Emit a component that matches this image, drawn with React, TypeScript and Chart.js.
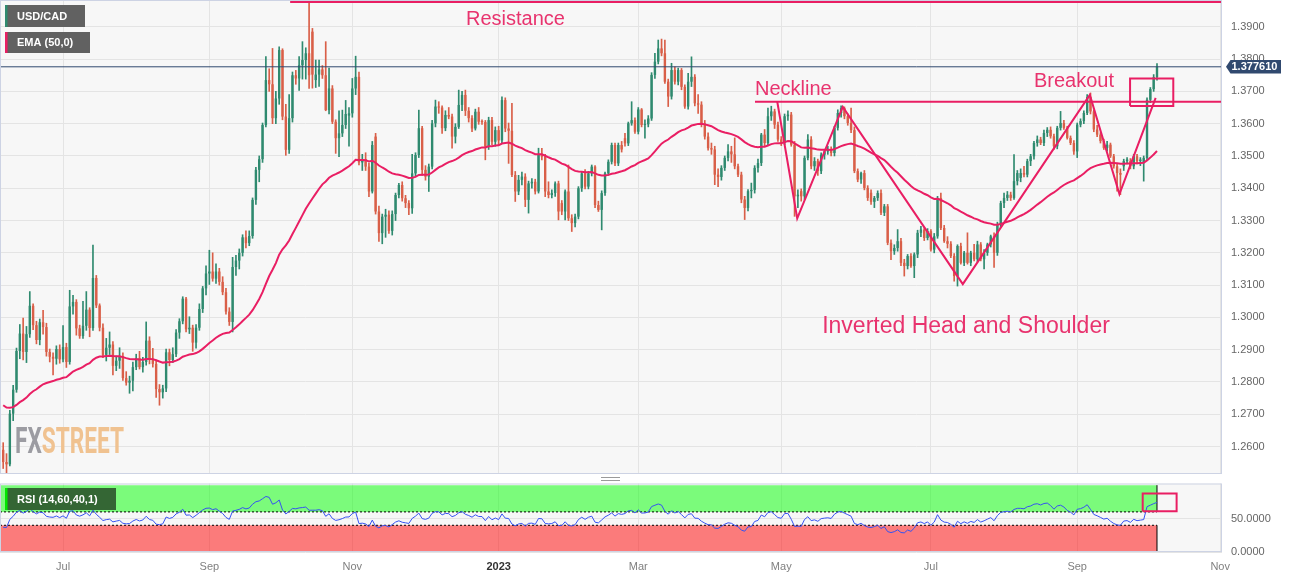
import React, { useEffect, useRef } from 'react';
import { Chart, registerables } from 'chart.js';

Chart.register(...registerables);

// ---------- data ----------
const startDate = '2022-06-07'; // first candle; candles are consecutive weekdays

const opens = [
  1.2590,1.2552,1.2545,1.2702,1.2776,1.2896,1.2950,1.2893,1.2948,1.3036,
  1.2976,1.2930,1.2985,1.2970,1.2893,1.2878,1.2872,1.2902,1.2870,1.2908,
  1.2862,1.3034,1.3048,1.2966,1.2942,1.2974,1.3024,1.2967,1.3122,1.3037,
  1.2968,1.2884,1.2906,1.2916,1.2850,1.2866,1.2880,1.2812,1.2798,1.2804,
  1.2846,1.2874,1.2846,1.2862,1.2928,1.2870,1.2856,1.2778,1.2768,1.2780,
  1.2892,1.2868,1.2886,1.2953,1.2988,1.3058,1.2963,1.2968,1.2922,1.2968,
  1.3026,1.3090,1.3136,1.3142,1.3120,1.3142,1.3110,1.3078,1.3018,1.2986,
  1.3156,1.3176,1.3200,1.3248,1.3230,1.3252,1.3364,1.3457,1.3490,1.3596,
  1.3735,1.3722,1.3617,1.3678,1.3828,1.3622,1.3519,1.3617,1.3750,1.3740,
  1.3781,1.3797,1.3818,1.3885,1.3735,1.3752,1.3768,1.3750,1.3642,1.3709,
  1.3606,1.3555,1.3570,1.3596,1.3625,1.3632,1.3709,1.3745,1.3480,1.3490,
  1.3467,1.3390,1.3560,1.3328,1.3261,1.3312,1.3318,1.3268,1.3320,1.3379,
  1.3410,1.3369,1.3354,1.3338,1.3446,1.3503,1.3586,1.3457,1.3436,1.3467,
  1.3601,1.3653,1.3650,1.3586,1.3627,1.3622,1.3560,1.3590,1.3658,1.3689,
  1.3640,1.3617,1.3585,1.3637,1.3606,1.3605,1.3529,1.3611,1.3544,1.3580,
  1.3548,1.3673,1.3585,1.3578,1.3441,1.3390,1.3426,1.3436,1.3364,1.3415,
  1.3420,1.3390,1.3503,1.3498,1.3390,1.3379,1.3385,1.3415,1.3354,1.3328,
  1.3390,1.3307,1.3292,1.3312,1.3400,1.3446,1.3405,1.3446,1.3467,1.3348,
  1.3333,1.3385,1.3446,1.3482,1.3534,1.3477,1.3534,1.3555,1.3539,1.3601,
  1.3611,1.3575,1.3644,1.3596,1.3598,1.3616,1.3751,1.3792,1.3833,1.3818,
  1.3730,1.3684,1.3766,1.3730,1.3766,1.3714,1.3653,1.3730,1.3745,1.3663,
  1.3659,1.3601,1.3560,1.3524,1.3520,1.3442,1.3435,1.3463,1.3494,1.3514,
  1.3505,1.3468,1.3442,1.3365,1.3339,1.3391,1.3395,1.3463,1.3478,1.3566,
  1.3540,1.3623,1.3638,1.3597,1.3551,1.3540,1.3623,1.3628,1.3535,1.3375,
  1.3391,1.3375,1.3494,1.3551,1.3468,1.3484,1.3453,1.3504,1.3514,1.3520,
  1.3509,1.3587,1.3633,1.3648,1.3623,1.3602,1.3580,1.3453,1.3427,1.3447,
  1.3401,1.3386,1.3358,1.3370,1.3385,1.3324,1.3344,1.3231,1.3205,1.3215,
  1.3236,1.3169,1.3159,1.3190,1.3159,1.3195,1.3262,1.3272,1.3246,1.3267,
  1.3210,1.3251,1.3370,1.3277,1.3236,1.3228,1.3190,1.3128,1.3221,1.3169,
  1.3200,1.3169,1.3200,1.3180,1.3226,1.3180,1.3200,1.3226,1.3251,1.3200,
  1.3288,1.3354,1.3370,1.3380,1.3370,1.3422,1.3432,1.3447,1.3442,1.3484,
  1.3499,1.3540,1.3551,1.3540,1.3571,1.3581,1.3561,1.3530,1.3587,1.3602,
  1.3587,1.3556,1.3540,1.3514,1.3597,1.3608,1.3633,1.3682,1.3638,1.3582,
  1.3566,1.3546,1.3525,1.3535,1.3499,1.3468,1.3447,1.3468,1.3484,1.3484,
  1.3468,1.3499,1.3484,1.3479,1.3494,1.3674,1.3707,1.3744,
];
const highs = [
  1.2612,1.2578,1.2712,1.2790,1.2905,1.2978,1.2998,1.2972,1.3080,1.3042,
  1.2988,1.2995,1.3022,1.2982,1.2902,1.2890,1.2912,1.2915,1.2975,1.2920,
  1.3084,1.3068,1.3055,1.2976,1.3050,1.3080,1.3030,1.3224,1.3130,1.3042,
  1.2980,1.2935,1.2955,1.2925,1.2880,1.2906,1.2890,1.2832,1.2818,1.2862,
  1.2886,1.2895,1.2876,1.2986,1.2940,1.2904,1.2868,1.2792,1.2790,1.2902,
  1.2902,1.2906,1.2962,1.2996,1.3064,1.3062,1.3002,1.2976,1.2978,1.3042,
  1.3096,1.3160,1.3208,1.3200,1.3166,1.3152,1.3126,1.3090,1.3030,1.3186,
  1.3192,1.3212,1.3256,1.3268,1.3268,1.3370,1.3465,1.3500,1.3602,1.3808,
  1.3770,1.3833,1.3700,1.3838,1.3832,1.3660,1.3690,1.3760,1.3765,1.3808,
  1.3854,1.3835,1.3977,1.3895,1.3797,1.3797,1.3780,1.3854,1.3772,1.3718,
  1.3612,1.3640,1.3642,1.3672,1.3650,1.3740,1.3809,1.3760,1.3505,1.3510,
  1.3478,1.3545,1.3570,1.3345,1.3320,1.3335,1.3330,1.3330,1.3385,1.3415,
  1.3420,1.3378,1.3362,1.3505,1.3510,1.3642,1.3592,1.3470,1.3475,1.3610,
  1.3673,1.3668,1.3655,1.3640,1.3650,1.3630,1.3600,1.3704,1.3700,1.3704,
  1.3650,1.3625,1.3645,1.3650,1.3612,1.3610,1.3620,1.3620,1.3590,1.3592,
  1.3683,1.3680,1.3602,1.3663,1.3452,1.3440,1.3450,1.3445,1.3422,1.3430,
  1.3428,1.3524,1.3524,1.3505,1.3420,1.3395,1.3420,1.3422,1.3362,1.3395,
  1.3472,1.3318,1.3320,1.3405,1.3452,1.3458,1.3452,1.3472,1.3470,1.3360,
  1.3392,1.3450,1.3488,1.3540,1.3540,1.3540,1.3545,1.3570,1.3605,1.3668,
  1.3618,1.3650,1.3647,1.3612,1.3625,1.3758,1.3818,1.3859,1.3862,1.3859,
  1.3738,1.3787,1.3776,1.3772,1.3771,1.3720,1.3756,1.3807,1.3752,1.3690,
  1.3668,1.3610,1.3572,1.3540,1.3530,1.3460,1.3470,1.3500,1.3535,1.3530,
  1.3556,1.3475,1.3450,1.3375,1.3396,1.3416,1.3470,1.3490,1.3570,1.3582,
  1.3648,1.3654,1.3645,1.3605,1.3560,1.3630,1.3640,1.3635,1.3545,1.3395,
  1.3398,1.3500,1.3566,1.3560,1.3495,1.3490,1.3510,1.3520,1.3530,1.3528,
  1.3592,1.3643,1.3655,1.3652,1.3630,1.3648,1.3590,1.3460,1.3450,1.3455,
  1.3408,1.3395,1.3375,1.3392,1.3395,1.3350,1.3350,1.3240,1.3225,1.3272,
  1.3245,1.3180,1.3195,1.3198,1.3200,1.3270,1.3282,1.3278,1.3275,1.3272,
  1.3260,1.3375,1.3385,1.3285,1.3250,1.3235,1.3198,1.3225,1.3230,1.3205,
  1.3262,1.3205,1.3226,1.3236,1.3232,1.3210,1.3230,1.3255,1.3262,1.3295,
  1.3360,1.3385,1.3390,1.3388,1.3504,1.3455,1.3460,1.3468,1.3490,1.3505,
  1.3545,1.3562,1.3558,1.3580,1.3588,1.3590,1.3568,1.3592,1.3638,1.3610,
  1.3592,1.3562,1.3548,1.3602,1.3615,1.3640,1.3690,1.3695,1.3642,1.3595,
  1.3572,1.3552,1.3545,1.3540,1.3505,1.3475,1.3460,1.3490,1.3495,1.3492,
  1.3505,1.3505,1.3495,1.3500,1.3680,1.3712,1.3752,1.3786,
];
const lows = [
  1.2532,1.2518,1.2540,1.2680,1.2768,1.2872,1.2868,1.2860,1.2938,1.2962,
  1.2918,1.2915,1.2948,1.2880,1.2862,1.2822,1.2855,1.2858,1.2862,1.2845,
  1.2855,1.3010,1.2945,1.2935,1.2935,1.2960,1.2940,1.2960,1.3030,1.2958,
  1.2875,1.2865,1.2885,1.2822,1.2835,1.2842,1.2805,1.2790,1.2765,1.2772,
  1.2838,1.2840,1.2830,1.2852,1.2856,1.2846,1.2752,1.2728,1.2750,1.2770,
  1.2850,1.2860,1.2878,1.2935,1.2980,1.2955,1.2950,1.2895,1.2905,1.2960,
  1.3015,1.3070,1.3102,1.3112,1.3105,1.3100,1.3070,1.3010,1.2975,1.2955,
  1.3130,1.3150,1.3190,1.3215,1.3222,1.3245,1.3350,1.3420,1.3480,1.3590,
  1.3700,1.3600,1.3600,1.3660,1.3612,1.3502,1.3508,1.3605,1.3722,1.3703,
  1.3738,1.3738,1.3709,1.3710,1.3712,1.3715,1.3740,1.3640,1.3630,1.3600,
  1.3508,1.3498,1.3560,1.3585,1.3530,1.3620,1.3690,1.3472,1.3455,1.3455,
  1.3374,1.3385,1.3320,1.3235,1.3228,1.3248,1.3260,1.3255,1.3300,1.3370,
  1.3360,1.3340,1.3318,1.3322,1.3436,1.3495,1.3440,1.3425,1.3390,1.3460,
  1.3590,1.3632,1.3570,1.3578,1.3615,1.3524,1.3540,1.3585,1.3640,1.3625,
  1.3605,1.3575,1.3580,1.3598,1.3598,1.3488,1.3520,1.3535,1.3530,1.3535,
  1.3540,1.3575,1.3477,1.3436,1.3359,1.3380,1.3410,1.3343,1.3323,1.3400,
  1.3382,1.3385,1.3488,1.3374,1.3370,1.3370,1.3375,1.3302,1.3318,1.3302,
  1.3300,1.3266,1.3280,1.3305,1.3390,1.3398,1.3398,1.3438,1.3340,1.3328,
  1.3271,1.3378,1.3440,1.3475,1.3470,1.3470,1.3512,1.3530,1.3532,1.3595,
  1.3570,1.3568,1.3590,1.3555,1.3590,1.3610,1.3740,1.3785,1.3810,1.3725,
  1.3653,1.3676,1.3722,1.3720,1.3705,1.3647,1.3645,1.3715,1.3655,1.3632,
  1.3590,1.3552,1.3518,1.3505,1.3411,1.3405,1.3425,1.3455,1.3485,1.3480,
  1.3460,1.3436,1.3355,1.3303,1.3330,1.3370,1.3385,1.3450,1.3470,1.3532,
  1.3535,1.3610,1.3585,1.3545,1.3532,1.3535,1.3610,1.3530,1.3313,1.3340,
  1.3360,1.3365,1.3488,1.3460,1.3455,1.3440,1.3445,1.3490,1.3505,1.3500,
  1.3500,1.3580,1.3620,1.3615,1.3595,1.3572,1.3448,1.3420,1.3415,1.3395,
  1.3362,1.3350,1.3340,1.3362,1.3318,1.3315,1.3225,1.3179,1.3195,1.3205,
  1.3160,1.3128,1.3150,1.3155,1.3123,1.3185,1.3250,1.3238,1.3240,1.3205,
  1.3200,1.3245,1.3272,1.3232,1.3215,1.3185,1.3112,1.3097,1.3165,1.3160,
  1.3165,1.3160,1.3175,1.3172,1.3175,1.3150,1.3192,1.3218,1.3155,1.3192,
  1.3280,1.3340,1.3362,1.3362,1.3365,1.3410,1.3420,1.3435,1.3435,1.3470,
  1.3490,1.3530,1.3535,1.3532,1.3560,1.3555,1.3520,1.3522,1.3580,1.3582,
  1.3552,1.3535,1.3505,1.3495,1.3590,1.3600,1.3628,1.3630,1.3575,1.3560,
  1.3540,1.3520,1.3515,1.3495,1.3462,1.3391,1.3380,1.3455,1.3475,1.3460,
  1.3460,1.3475,1.3470,1.3422,1.3488,1.3665,1.3700,1.3735,
];
const closes = [
  1.2552,1.2545,1.2702,1.2776,1.2896,1.2950,1.2893,1.2948,1.3036,1.2976,
  1.2930,1.2985,1.2970,1.2893,1.2878,1.2872,1.2902,1.2870,1.2908,1.2862,
  1.3034,1.3048,1.2966,1.2942,1.2974,1.3024,1.2967,1.3122,1.3037,1.2968,
  1.2884,1.2906,1.2916,1.2850,1.2866,1.2880,1.2812,1.2798,1.2804,1.2846,
  1.2874,1.2846,1.2862,1.2928,1.2870,1.2856,1.2778,1.2768,1.2780,1.2892,
  1.2868,1.2886,1.2953,1.2988,1.3058,1.2963,1.2968,1.2922,1.2968,1.3026,
  1.3090,1.3136,1.3142,1.3120,1.3142,1.3110,1.3078,1.3018,1.2986,1.3156,
  1.3176,1.3200,1.3248,1.3230,1.3252,1.3364,1.3457,1.3490,1.3596,1.3735,
  1.3722,1.3617,1.3678,1.3828,1.3622,1.3519,1.3617,1.3750,1.3740,1.3781,
  1.3797,1.3818,1.3750,1.3752,1.3752,1.3768,1.3750,1.3642,1.3709,1.3606,
  1.3555,1.3570,1.3596,1.3630,1.3632,1.3709,1.3745,1.3480,1.3490,1.3467,
  1.3390,1.3534,1.3328,1.3261,1.3312,1.3318,1.3268,1.3320,1.3379,1.3410,
  1.3369,1.3354,1.3338,1.3446,1.3503,1.3586,1.3457,1.3436,1.3467,1.3601,
  1.3653,1.3650,1.3586,1.3627,1.3622,1.3560,1.3590,1.3658,1.3689,1.3640,
  1.3617,1.3585,1.3637,1.3606,1.3605,1.3529,1.3611,1.3544,1.3580,1.3548,
  1.3673,1.3585,1.3578,1.3441,1.3390,1.3426,1.3436,1.3364,1.3415,1.3420,
  1.3390,1.3503,1.3498,1.3390,1.3379,1.3385,1.3415,1.3328,1.3328,1.3390,
  1.3307,1.3292,1.3312,1.3400,1.3446,1.3405,1.3446,1.3467,1.3348,1.3333,
  1.3385,1.3446,1.3482,1.3534,1.3477,1.3534,1.3520,1.3539,1.3601,1.3611,
  1.3575,1.3644,1.3596,1.3598,1.3616,1.3751,1.3792,1.3833,1.3818,1.3730,
  1.3684,1.3766,1.3730,1.3766,1.3714,1.3653,1.3730,1.3745,1.3663,1.3659,
  1.3601,1.3560,1.3524,1.3520,1.3442,1.3435,1.3463,1.3494,1.3514,1.3505,
  1.3468,1.3442,1.3365,1.3339,1.3391,1.3395,1.3463,1.3478,1.3566,1.3540,
  1.3623,1.3638,1.3597,1.3551,1.3540,1.3623,1.3628,1.3535,1.3375,1.3380,
  1.3375,1.3494,1.3551,1.3468,1.3484,1.3453,1.3504,1.3514,1.3520,1.3509,
  1.3587,1.3633,1.3648,1.3623,1.3602,1.3580,1.3453,1.3427,1.3447,1.3401,
  1.3370,1.3358,1.3370,1.3385,1.3324,1.3344,1.3231,1.3205,1.3215,1.3236,
  1.3169,1.3159,1.3190,1.3159,1.3195,1.3262,1.3272,1.3246,1.3267,1.3210,
  1.3251,1.3370,1.3277,1.3236,1.3228,1.3190,1.3128,1.3221,1.3169,1.3200,
  1.3169,1.3200,1.3180,1.3226,1.3180,1.3200,1.3226,1.3251,1.3200,1.3288,
  1.3354,1.3370,1.3380,1.3370,1.3422,1.3447,1.3447,1.3442,1.3484,1.3499,
  1.3540,1.3551,1.3540,1.3571,1.3581,1.3561,1.3530,1.3587,1.3602,1.3587,
  1.3556,1.3540,1.3514,1.3597,1.3608,1.3633,1.3682,1.3638,1.3582,1.3566,
  1.3546,1.3525,1.3535,1.3499,1.3468,1.3447,1.3442,1.3484,1.3489,1.3468,
  1.3499,1.3484,1.3489,1.3494,1.3674,1.3707,1.3744,1.37761,
];

// x-axis ticks (first day of every second month) and their labels
const tickDates = ['2022-07-01','2022-09-01','2022-11-01','2023-01-01','2023-03-01','2023-05-01','2023-07-01','2023-09-01','2023-11-01'];
const tickLabels = ['Jul','Sep','Nov','2023','Mar','May','Jul','Sep','Nov'];
const priceTicks = [1.26,1.27,1.28,1.29,1.30,1.31,1.32,1.33,1.34,1.35,1.36,1.37,1.38,1.39];
const rsiTicks = [0, 50];

// axis ranges
const priceRange = [1.2515, 1.3983];
const indexRange = [-0.96, 366.55];
const rsiRange = [0, 102.5];

// indicator settings
const emaPeriod = 50;
const emaStart = 1.2735;
const rsiPeriod = 14;
const rsiStartGain = 0.0020;
const rsiStartLoss = 0.0034;
const rsiUpperBand = [60, 100];
const rsiLowerBand = [0, 40];

// drawn annotations (candle index, price)
const resistanceFrom = 86.3;
const resistanceLevel = 1.3977;
const necklineFrom = 226.1;
const necklineLevel = 1.3668;
const patternX = [232.8, 238.8, 252.5, 288.6, 326.8, 335.7, 346.6];
const patternY = [1.3668, 1.3307, 1.3652, 1.3103, 1.3689, 1.3382, 1.3680];
const breakoutBoxX = [338.9, 351.9];
const breakoutBoxY = [1.3655, 1.3740];
const rsiBoxX = [342.7, 352.9];
const rsiBoxY = [60.9, 87.4];
const noteTexts = ['Resistance', 'Neckline', 'Breakout', 'Inverted Head and Shoulder'];
const noteX = [139.2, 226.1, 310.0, 246.3];
const noteY = [1.39053, 1.36885, 1.37133, 1.29517];
const noteSize = [20, 20, 20, 23];

// ---------- helpers ----------
function weekdayIndex(dateStr: string): number {
  const [sy, sm, sd] = startDate.split('-').map(Number);
  const [y, m, d] = dateStr.split('-').map(Number);
  const start = Date.UTC(sy, sm - 1, sd);
  const end = Date.UTC(y, m - 1, d);
  let n = 0;
  for (let t = start; t < end; t += 86400000) {
    const wd = new Date(t).getUTCDay();
    if (wd !== 0 && wd !== 6) n++;
  }
  return n;
}

const ema: number[] = [];
{
  const k = 2 / (emaPeriod + 1);
  let e = emaStart;
  closes.forEach((c) => { e = e + k * (c - e); ema.push(e); });
}
const rsi: number[] = [];
{
  let g = rsiStartGain, l = rsiStartLoss;
  closes.forEach((c, i) => {
    if (i > 0) {
      const ch = c - closes[i - 1];
      g = (g * (rsiPeriod - 1) + Math.max(ch, 0)) / rsiPeriod;
      l = (l * (rsiPeriod - 1) + Math.max(-ch, 0)) / rsiPeriod;
    }
    rsi.push(100 - 100 / (1 + g / l));
  });
}

const UP = '#2f8a6f';
const DOWN = '#d95f48';
const PINK = '#e91e63';
const TEXT_PINK = '#e8336e';
const NAVY = '#30496f';
const GRID = '#e4e4e4';
const BORDER = '#cdd3e4';
const FONT = '"Liberation Sans", Arial, sans-serif';

function rectPoints(xs: number[], ys: number[]) {
  return [
    { x: xs[0], y: ys[0] }, { x: xs[1], y: ys[0] }, { x: xs[1], y: ys[1] },
    { x: xs[0], y: ys[1] }, { x: xs[0], y: ys[0] },
  ];
}

function legendBox(ctx: any, x: number, y: number, w: number, h: number, bg: string, stripe: string, text: string) {
  ctx.save();
  ctx.fillStyle = bg;
  ctx.fillRect(x, y, w, h);
  ctx.fillStyle = stripe;
  ctx.fillRect(x, y, 2.5, h);
  ctx.fillStyle = '#ffffff';
  ctx.font = `bold 11px ${FONT}`;
  ctx.textBaseline = 'middle';
  ctx.textAlign = 'left';
  ctx.fillText(text, x + 12, y + h / 2 + 0.5);
  ctx.restore();
}

const noPadding = (s: any) => {
  s.paddingTop = 0; s.paddingBottom = 0; s.paddingLeft = 0; s.paddingRight = 0;
};

export default function App() {
  const mainRef = useRef<HTMLCanvasElement>(null);
  const rsiRef = useRef<HTMLCanvasElement>(null);

  useEffect(() => {
    document.body.style.margin = '0';
    Chart.defaults.font.family = FONT;
    const last = closes.length - 1;
    const lastPrice = closes[last];
    const xTicks = tickDates.map(weekdayIndex);
    const colors = closes.map((c, i) => (c >= opens[i] ? UP : DOWN));

    const xAxis = (labels: boolean): any => ({
      type: 'linear',
      min: indexRange[0],
      max: indexRange[1],
      offset: false,
      afterBuildTicks: (s: any) => { s.ticks = xTicks.map((v) => ({ value: v })); },
      grid: { color: GRID, drawTicks: false, offset: false },
      border: { display: false },
      ticks: {
        display: labels,
        autoSkip: false,
        maxRotation: 0,
        padding: 8,
        color: (c: any) => (tickLabels[c.index] === '2023' ? '#333' : '#808080'),
        font: (c: any) => ({ size: 11, weight: tickLabels[c.index] === '2023' ? 'bold' : 'normal' }),
        callback: (_v: any, i: number) => tickLabels[i],
      },
      afterFit: (s: any) => { s.height = labels ? 26 : 0; noPadding(s); },
    });

    const yAxis = (range: number[], ticks: number[]): any => ({
      type: 'linear', position: 'right',
      min: range[0], max: range[1], beginAtZero: false,
      afterBuildTicks: (s: any) => { s.ticks = ticks.map((v) => ({ value: v })); },
      grid: { color: GRID, drawTicks: false },
      border: { display: false },
      ticks: { padding: 9, color: '#666', font: { size: 11 }, callback: (v: any) => Number(v).toFixed(4) },
      afterFit: (s: any) => { s.width = 77; noPadding(s); },
    });

    const bgPlugin = {
      id: 'panelBg',
      beforeDraw(chart: any) {
        const { ctx, chartArea: a, width, height } = chart;
        ctx.save();
        ctx.fillStyle = '#ffffff';
        ctx.fillRect(0, 0, width, height);
        ctx.fillStyle = '#f7f7f7';
        ctx.fillRect(a.left, a.top, a.right - a.left, a.bottom - a.top);
        ctx.restore();
      },
    };

    const mainOverlay = {
      id: 'mainOverlay',
      beforeDatasetsDraw(chart: any) {
        const { ctx } = chart;
        ctx.save();
        ctx.font = `bold 36px Roboto, ${FONT}`;
        const w1 = ctx.measureText('FX').width;
        const w2 = ctx.measureText('STREET').width;
        ctx.translate(15, 453);
        ctx.scale(109 / (w1 + w2), 1);
        ctx.textBaseline = 'alphabetic';
        ctx.textAlign = 'left';
        ctx.fillStyle = '#9c9ca2';
        ctx.fillText('FX', 0, 0);
        ctx.fillStyle = '#f0c290';
        ctx.fillText('STREET', w1, 0);
        ctx.restore();
      },
      afterDatasetsDraw(chart: any) {
        const { ctx, scales } = chart;
        ctx.save();
        ctx.fillStyle = TEXT_PINK;
        ctx.textAlign = 'left';
        ctx.textBaseline = 'alphabetic';
        noteTexts.forEach((t, i) => {
          ctx.font = `${noteSize[i]}px ${FONT}`;
          ctx.fillText(t, scales.x.getPixelForValue(noteX[i]), scales.y.getPixelForValue(noteY[i]));
        });
        ctx.restore();
      },
      afterDraw(chart: any) {
        const { ctx, chartArea: a, scales } = chart;
        ctx.save();
        ctx.strokeStyle = BORDER;
        ctx.lineWidth = 1;
        ctx.strokeRect(a.left + 0.5, a.top + 0.5, a.right - a.left - 1, a.bottom - a.top - 1);
        ctx.restore();
        legendBox(ctx, 5, 5, 80, 22, '#616161', UP, 'USD/CAD');
        legendBox(ctx, 5, 32, 85, 21, '#616161', PINK, 'EMA (50,0)');
        // last price tag
        const y = scales.y.getPixelForValue(lastPrice);
        const x0 = a.right + 4;
        ctx.save();
        ctx.fillStyle = NAVY;
        ctx.beginPath();
        ctx.moveTo(x0, y);
        ctx.lineTo(x0 + 4.5, y - 6.7);
        ctx.lineTo(x0 + 55, y - 6.7);
        ctx.lineTo(x0 + 55, y + 6.7);
        ctx.lineTo(x0 + 4.5, y + 6.7);
        ctx.closePath();
        ctx.fill();
        ctx.fillStyle = '#ffffff';
        ctx.font = `bold 11px ${FONT}`;
        ctx.textBaseline = 'middle';
        ctx.textAlign = 'left';
        ctx.fillText(lastPrice.toFixed(6), x0 + 5.5, y + 0.5);
        ctx.restore();
      },
    };

    const line = (label: string, data: any[], color: string, width: number, order: number, extra: any = {}) => ({
      type: 'line', label, data, borderColor: color, borderWidth: width,
      pointRadius: 0, tension: 0, fill: false, order, ...extra,
    });

    const main = new Chart(mainRef.current as HTMLCanvasElement, {
      type: 'bar',
      data: {
        datasets: [
          line('Last price', [{ x: indexRange[0], y: lastPrice }, { x: indexRange[1], y: lastPrice }], NAVY, 1, 1),
          line('Resistance', [{ x: resistanceFrom, y: resistanceLevel }, { x: indexRange[1], y: resistanceLevel }], PINK, 2, 2),
          line('Neckline', [{ x: necklineFrom, y: necklineLevel }, { x: indexRange[1], y: necklineLevel }], PINK, 2, 2),
          line('Pattern', patternX.map((x, i) => ({ x, y: patternY[i] })), PINK, 2, 2),
          line('Breakout box', rectPoints(breakoutBoxX, breakoutBoxY), PINK, 2, 2),
          line('EMA (50,0)', ema.map((v, i) => ({ x: i, y: v })), PINK, 2, 3),
          {
            type: 'bar', label: 'Body',
            data: closes.map((c, i) => ({ x: i, y: [opens[i], c] })),
            backgroundColor: colors, grouped: false,
            categoryPercentage: 1, barPercentage: 0.72, minBarLength: 1, order: 4,
          },
          {
            type: 'bar', label: 'Wick',
            data: closes.map((_c, i) => ({ x: i, y: [lows[i], highs[i]] })),
            backgroundColor: colors, grouped: false,
            categoryPercentage: 1, barPercentage: 1, maxBarThickness: 1, order: 5,
          },
        ] as any,
      },
      options: {
        animation: false,
        responsive: true,
        maintainAspectRatio: false,
        events: [],
        layout: { padding: 0 },
        plugins: { legend: { display: false }, tooltip: { enabled: false } },
        scales: { x: xAxis(false), y: yAxis(priceRange, priceTicks) } as any,
      },
      plugins: [bgPlugin, mainOverlay],
    } as any);

    const rsiOverlay = {
      id: 'rsiOverlay',
      afterDraw(chart: any) {
        const { ctx, chartArea: a } = chart;
        ctx.save();
        ctx.strokeStyle = BORDER;
        ctx.lineWidth = 1;
        ctx.strokeRect(a.left + 0.5, a.top + 0.5, a.right - a.left - 1, a.bottom - a.top - 1);
        ctx.strokeStyle = '#9a9a9a';
        ctx.beginPath();
        ctx.moveTo(601, 1.5); ctx.lineTo(620, 1.5);
        ctx.moveTo(601, 4.5); ctx.lineTo(620, 4.5);
        ctx.stroke();
        ctx.restore();
        legendBox(ctx, 5, 12, 111, 22, '#346634', '#00e600', 'RSI (14,60,40,1)');
      },
    };

    const zx0 = indexRange[0];
    const rsiChart = new Chart(rsiRef.current as HTMLCanvasElement, {
      type: 'line',
      data: {
        datasets: [
          line('RSI box', rectPoints(rsiBoxX, rsiBoxY), PINK, 2, 0),
          line('RSI', rsi.map((v, i) => ({ x: i, y: v })), '#3552f2', 1, 1),
          line('Upper level', [{ x: zx0, y: rsiUpperBand[0] }, { x: last, y: rsiUpperBand[0] }], '#000', 1, 3, { borderDash: [2, 2] }),
          line('Lower level', [{ x: zx0, y: rsiLowerBand[1] }, { x: last, y: rsiLowerBand[1] }], '#000', 1, 3, { borderDash: [2, 2] }),
          line('Upper edge R', [{ x: last, y: rsiUpperBand[0] }, { x: last, y: rsiUpperBand[1] }], '#000', 1, 3),
          line('Lower edge R', [{ x: last, y: rsiLowerBand[0] }, { x: last, y: rsiLowerBand[1] }], '#000', 1, 3),
          line('Lower edge L', [{ x: zx0, y: rsiLowerBand[0] }, { x: zx0, y: rsiLowerBand[1] }], '#000', 2, 3),
          line('Upper zone', [{ x: zx0, y: rsiUpperBand[1] }, { x: last, y: rsiUpperBand[1] }], 'rgba(0,0,0,0)', 1, 5,
            { fill: { value: rsiUpperBand[0] }, backgroundColor: 'rgba(0,255,0,0.5)' }),
          line('Lower zone', [{ x: zx0, y: rsiLowerBand[1] }, { x: last, y: rsiLowerBand[1] }], 'rgba(0,0,0,0)', 1, 5,
            { fill: { value: rsiLowerBand[0] }, backgroundColor: 'rgba(255,0,0,0.5)' }),
        ] as any,
      },
      options: {
        animation: false,
        responsive: true,
        maintainAspectRatio: false,
        events: [],
        layout: { padding: { top: 7.5, left: 0, right: 0, bottom: 0 } },
        plugins: { legend: { display: false }, tooltip: { enabled: false } },
        scales: { x: xAxis(true), y: yAxis(rsiRange, rsiTicks) } as any,
      },
      plugins: [bgPlugin, rsiOverlay],
    } as any);

    return () => { main.destroy(); rsiChart.destroy(); };
  }, []);

  return (
    <div style={{ position: 'relative', width: 1299, height: 578, background: '#ffffff' }}>
      <div style={{ position: 'absolute', left: 0, top: 0, width: 1299, height: 474 }}>
        <canvas ref={mainRef} />
      </div>
      <div style={{ position: 'absolute', left: 0, top: 476, width: 1299, height: 102 }}>
        <canvas ref={rsiRef} />
      </div>
    </div>
  );
}
